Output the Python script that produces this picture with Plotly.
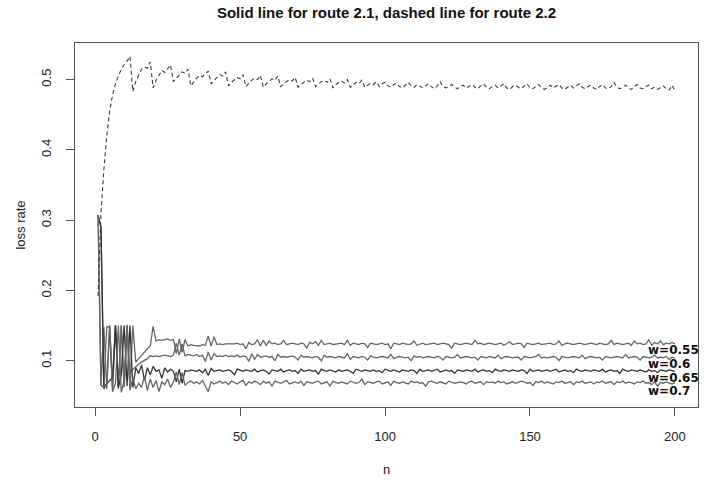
import plotly.graph_objects as go

# step index
n = list(range(1, 201))

# route 2.2 loss rate (dashed)
route22 = [
    0.192, 0.310, 0.372, 0.420, 0.455, 0.478, 0.494, 0.506, 0.515, 0.521, 0.526, 0.533,
    0.483, 0.497, 0.507, 0.515, 0.518, 0.516, 0.525, 0.488,
    0.499, 0.507, 0.513, 0.510, 0.516, 0.521, 0.497,
    0.502, 0.506, 0.511, 0.509, 0.515, 0.491,
    0.497, 0.502, 0.506, 0.504, 0.508, 0.512, 0.494,
    0.499, 0.503, 0.507, 0.505, 0.511, 0.491,
    0.496, 0.500, 0.503, 0.501, 0.507, 0.490,
    0.495, 0.499, 0.502, 0.500, 0.506, 0.489,
    0.494, 0.498, 0.501, 0.499, 0.505, 0.490,
    0.494, 0.497, 0.500, 0.498, 0.503, 0.489, 0.493,
    0.496, 0.499, 0.497, 0.502, 0.490, 0.494, 0.497,
    0.499, 0.496, 0.501, 0.488, 0.493, 0.496, 0.498,
    0.495, 0.500, 0.489, 0.493, 0.496, 0.494, 0.499,
    0.489, 0.492, 0.495, 0.493, 0.497, 0.490, 0.494, 0.496,
    0.491, 0.489, 0.493, 0.495, 0.490, 0.488, 0.492, 0.496, 0.491, 0.489,
    0.493, 0.490, 0.488, 0.491, 0.494, 0.490, 0.487, 0.491, 0.497, 0.490,
    0.488, 0.490, 0.493, 0.489, 0.487, 0.490, 0.492, 0.488, 0.490, 0.493,
    0.489, 0.487, 0.491, 0.494, 0.489, 0.487, 0.490, 0.492, 0.488, 0.491,
    0.494, 0.488, 0.486, 0.490, 0.492, 0.489, 0.487, 0.491, 0.494, 0.488,
    0.487, 0.490, 0.493, 0.488, 0.486, 0.489, 0.492, 0.488, 0.490, 0.493,
    0.488, 0.486, 0.489, 0.492, 0.488, 0.491, 0.494, 0.489, 0.487, 0.490,
    0.492, 0.488, 0.486, 0.490, 0.493, 0.488, 0.487, 0.490, 0.496, 0.489,
    0.487, 0.489, 0.492, 0.488, 0.486, 0.490, 0.493, 0.488, 0.487, 0.490,
    0.492, 0.487, 0.489, 0.486, 0.488, 0.491, 0.487, 0.485, 0.492, 0.484,
]

# route 2.1 loss rate (solid), one series per weight
route21_w055 = [
    0.307, 0.290, 0.062, 0.148, 0.148, 0.062, 0.150, 0.060, 0.150, 0.062, 0.150, 0.063, 0.150,
    0.098, 0.103, 0.108, 0.113, 0.117, 0.121, 0.149,
    0.128, 0.130, 0.129, 0.130, 0.131, 0.129, 0.130,
    0.110, 0.131, 0.112, 0.130, 0.121, 0.123, 0.122,
    0.122, 0.121, 0.123, 0.122, 0.135, 0.121, 0.134, 0.123, 0.124, 0.123, 0.124,
    0.124, 0.123, 0.124, 0.125, 0.123, 0.124, 0.117, 0.126, 0.123, 0.124,
    0.130, 0.121, 0.129, 0.122, 0.128, 0.124, 0.125, 0.123, 0.124, 0.129,
    0.123, 0.124, 0.125, 0.124, 0.123, 0.125, 0.124, 0.118, 0.126, 0.124,
    0.127, 0.122, 0.129, 0.123, 0.124, 0.125, 0.123, 0.124, 0.124, 0.125,
    0.123, 0.129, 0.122, 0.125, 0.124, 0.123, 0.125, 0.124, 0.119, 0.125,
    0.124, 0.123, 0.124, 0.125, 0.123, 0.124, 0.117, 0.125, 0.124, 0.123,
    0.125, 0.124, 0.123, 0.124, 0.128, 0.122, 0.124, 0.125, 0.123, 0.124,
    0.124, 0.125, 0.123, 0.124, 0.125, 0.124, 0.123, 0.118, 0.125, 0.124,
    0.123, 0.124, 0.125, 0.124, 0.123, 0.129, 0.124, 0.125, 0.123, 0.124,
    0.125, 0.124, 0.123, 0.124, 0.125, 0.122, 0.124, 0.127, 0.123, 0.124,
    0.125, 0.124, 0.119, 0.125, 0.124, 0.123, 0.124, 0.125, 0.123, 0.124,
    0.124, 0.125, 0.123, 0.124, 0.128, 0.122, 0.124, 0.125, 0.124, 0.123,
    0.124, 0.125, 0.124, 0.123, 0.124, 0.125, 0.124, 0.123, 0.125, 0.124,
    0.123, 0.124, 0.129, 0.123, 0.125, 0.124, 0.123, 0.124, 0.125, 0.122,
    0.128, 0.124, 0.125, 0.123, 0.124, 0.130, 0.122, 0.126, 0.124, 0.128,
    0.123, 0.125, 0.124, 0.126, 0.124,
]

route21_w060 = [
    0.307, 0.065, 0.148, 0.060, 0.150, 0.058, 0.151, 0.062, 0.150, 0.064, 0.151, 0.083, 0.088,
    0.092, 0.095, 0.098, 0.100, 0.103, 0.107, 0.106,
    0.107, 0.106, 0.107, 0.108, 0.107, 0.106, 0.108,
    0.125, 0.108, 0.124, 0.107, 0.109, 0.108, 0.107,
    0.109, 0.106, 0.108, 0.099, 0.112, 0.101, 0.110, 0.106, 0.107, 0.106, 0.108,
    0.106, 0.107, 0.106, 0.108, 0.105, 0.107, 0.106, 0.099, 0.110, 0.102,
    0.109, 0.105, 0.106, 0.107, 0.105, 0.106, 0.100, 0.109, 0.105, 0.106,
    0.105, 0.106, 0.107, 0.105, 0.101, 0.108, 0.105, 0.106, 0.105, 0.104,
    0.106, 0.105, 0.100, 0.108, 0.105, 0.106, 0.105, 0.104, 0.106, 0.105,
    0.104, 0.110, 0.102, 0.106, 0.105, 0.104, 0.106, 0.105, 0.101, 0.107,
    0.105, 0.104, 0.105, 0.106, 0.105, 0.104, 0.109, 0.103, 0.105, 0.106,
    0.105, 0.104, 0.105, 0.100, 0.107, 0.105, 0.106, 0.104, 0.105, 0.106,
    0.105, 0.104, 0.106, 0.105, 0.101, 0.106, 0.105, 0.104, 0.105, 0.109,
    0.104, 0.105, 0.106, 0.105, 0.104, 0.105, 0.101, 0.106, 0.105, 0.104,
    0.106, 0.105, 0.104, 0.108, 0.103, 0.105, 0.106, 0.105, 0.104, 0.105,
    0.105, 0.101, 0.106, 0.105, 0.104, 0.105, 0.106, 0.109, 0.104, 0.105,
    0.104, 0.105, 0.106, 0.105, 0.100, 0.106, 0.105, 0.104, 0.105, 0.106,
    0.105, 0.104, 0.108, 0.103, 0.105, 0.106, 0.105, 0.104, 0.105, 0.101,
    0.106, 0.105, 0.104, 0.105, 0.106, 0.105, 0.104, 0.109, 0.104, 0.105,
    0.106, 0.105, 0.101, 0.106, 0.105, 0.104, 0.105, 0.108, 0.104, 0.105,
    0.104, 0.106, 0.102, 0.105, 0.104,
]

route21_w065 = [
    0.307, 0.290, 0.060, 0.068, 0.072, 0.076, 0.150, 0.062, 0.080, 0.150, 0.064, 0.150, 0.062,
    0.090, 0.082, 0.094, 0.072, 0.090, 0.080, 0.092,
    0.085, 0.087, 0.075, 0.090, 0.084, 0.088, 0.085,
    0.070, 0.088, 0.068, 0.086, 0.085, 0.087, 0.086,
    0.085, 0.087, 0.083, 0.088, 0.079, 0.089, 0.085, 0.086, 0.087, 0.085, 0.086,
    0.087, 0.085, 0.080, 0.088, 0.086, 0.085, 0.087, 0.086, 0.085, 0.088,
    0.084, 0.086, 0.087, 0.085, 0.081, 0.087, 0.086, 0.085, 0.088, 0.084,
    0.086, 0.087, 0.085, 0.086, 0.082, 0.088, 0.085, 0.086, 0.087, 0.085,
    0.086, 0.081, 0.088, 0.086, 0.085, 0.087, 0.086, 0.084, 0.087, 0.085,
    0.086, 0.087, 0.085, 0.082, 0.088, 0.086, 0.085, 0.087, 0.086, 0.085,
    0.087, 0.085, 0.086, 0.083, 0.088, 0.086, 0.085, 0.087, 0.086, 0.084,
    0.087, 0.086, 0.085, 0.087, 0.086, 0.082, 0.088, 0.085, 0.086, 0.087,
    0.085, 0.086, 0.088, 0.084, 0.086, 0.087, 0.085, 0.086, 0.082, 0.087,
    0.086, 0.085, 0.087, 0.086, 0.085, 0.088, 0.084, 0.086, 0.087, 0.085,
    0.086, 0.083, 0.088, 0.086, 0.085, 0.087, 0.086, 0.085, 0.087, 0.086,
    0.085, 0.087, 0.086, 0.082, 0.088, 0.085, 0.086, 0.087, 0.085, 0.086,
    0.087, 0.085, 0.086, 0.088, 0.084, 0.086, 0.087, 0.085, 0.086, 0.083,
    0.088, 0.086, 0.085, 0.087, 0.086, 0.085, 0.087, 0.086, 0.085, 0.088,
    0.084, 0.086, 0.087, 0.085, 0.086, 0.082, 0.088, 0.086, 0.085, 0.087,
    0.086, 0.085, 0.087, 0.086, 0.084, 0.087, 0.085, 0.086, 0.083, 0.087,
    0.086, 0.085, 0.087, 0.086, 0.085,
]

route21_w070 = [
    0.307, 0.065, 0.062, 0.066, 0.150, 0.056, 0.068, 0.150, 0.055, 0.072, 0.150, 0.058, 0.075,
    0.060, 0.068, 0.062, 0.078, 0.058, 0.074, 0.062,
    0.072, 0.056, 0.070, 0.066, 0.074, 0.062, 0.070,
    0.084, 0.066, 0.083, 0.065, 0.069, 0.071, 0.068,
    0.070, 0.067, 0.072, 0.064, 0.056, 0.070, 0.067, 0.069, 0.071, 0.068, 0.070,
    0.066, 0.071, 0.069, 0.067, 0.070, 0.072, 0.065, 0.070, 0.068, 0.071,
    0.069, 0.066, 0.071, 0.068, 0.070, 0.064, 0.071, 0.069, 0.068, 0.070,
    0.072, 0.067, 0.069, 0.070, 0.068, 0.071, 0.065, 0.070, 0.069, 0.068,
    0.070, 0.071, 0.067, 0.069, 0.070, 0.064, 0.071, 0.069, 0.068, 0.070,
    0.069, 0.067, 0.071, 0.070, 0.068, 0.069, 0.074, 0.066, 0.070, 0.069,
    0.068, 0.070, 0.071, 0.067, 0.069, 0.070, 0.065, 0.071, 0.069, 0.068,
    0.070, 0.069, 0.067, 0.071, 0.069, 0.070, 0.068, 0.069, 0.064, 0.070,
    0.071, 0.069, 0.068, 0.070, 0.069, 0.067, 0.071, 0.070, 0.068, 0.069,
    0.070, 0.069, 0.067, 0.070, 0.071, 0.068, 0.069, 0.070, 0.066, 0.070,
    0.069, 0.070, 0.068, 0.071, 0.069, 0.070, 0.067, 0.069, 0.070, 0.068,
    0.069, 0.071, 0.070, 0.068, 0.069, 0.065, 0.070, 0.069, 0.071, 0.068,
    0.070, 0.069, 0.067, 0.070, 0.069, 0.071, 0.068, 0.069, 0.070, 0.066,
    0.070, 0.069, 0.071, 0.068, 0.069, 0.070, 0.067, 0.070, 0.069, 0.071,
    0.068, 0.069, 0.070, 0.066, 0.070, 0.069, 0.071, 0.068, 0.070, 0.069,
    0.067, 0.070, 0.069, 0.071, 0.068, 0.069, 0.066, 0.070, 0.064, 0.069,
    0.068, 0.070, 0.069, 0.067, 0.069,
]

weight_labels = ["w=0.55", "w=0.6", "w=0.65", "w=0.7"]

x_ticks = [0, 50, 100, 150, 200]
y_ticks = [0.1, 0.2, 0.3, 0.4, 0.5]

fig = go.Figure()

solid_series = [route21_w055, route21_w060, route21_w065, route21_w070]
solid_colors = ["#666666", "#666666", "#333333", "#666666"]
for ys, col, name in zip(solid_series, solid_colors, weight_labels):
    fig.add_trace(go.Scatter(x=n, y=ys, mode="lines", name=name,
                             line=dict(color=col, width=1.3), showlegend=False))

fig.add_trace(go.Scatter(x=n, y=route22, mode="lines", name="route 2.2",
                         line=dict(color="#3a3a3a", width=1.1, dash="4px,3px"),
                         showlegend=False))

# weight labels stacked at the right end of the solid lines
label_y = [0.1156, 0.0958, 0.0761, 0.0563]
for txt, yv in zip(weight_labels, label_y):
    fig.add_annotation(x=190.2, y=yv, text=txt, showarrow=False,
                       xanchor="left", yanchor="middle", borderpad=0,
                       font=dict(family="DejaVu Sans", size=12, color="#111111", weight="bold"))

axis_common = dict(showline=True, linecolor="#555555", linewidth=1, mirror=True,
                   ticks="outside", ticklen=8, tickcolor="#555555", tickwidth=1,
                   showgrid=False, zeroline=False,
                   tickfont=dict(family="Liberation Sans", size=13, color="#222222"))

fig.update_layout(
    width=727, height=487,
    margin=dict(l=75, r=29, t=43, b=72),
    paper_bgcolor="white", plot_bgcolor="white",
    title=dict(text="<b>Solid line for route 2.1, dashed line for route 2.2</b>",
               x=(75 + 698) / 2 / 727, xanchor="center", y=1 - 13 / 487, yanchor="middle",
               font=dict(family="Liberation Sans", size=15, color="#111111")),
    xaxis=dict(range=[-6.96, 207.96], tickvals=x_ticks, ticktext=[str(t) for t in x_ticks],
               ticklabelstandoff=9,
               title=dict(text="n", standoff=22,
                          font=dict(family="Liberation Sans", size=13, color="#222222")),
               **axis_common),
    yaxis=dict(range=[0.0342, 0.5520], tickvals=y_ticks, ticktext=[str(t) for t in y_ticks],
               tickangle=-90, ticklabelstandoff=10,
               title=dict(text="loss rate", standoff=10,
                          font=dict(family="Liberation Sans", size=13, color="#222222")),
               **axis_common),
)

fig.write_html("out.html")
